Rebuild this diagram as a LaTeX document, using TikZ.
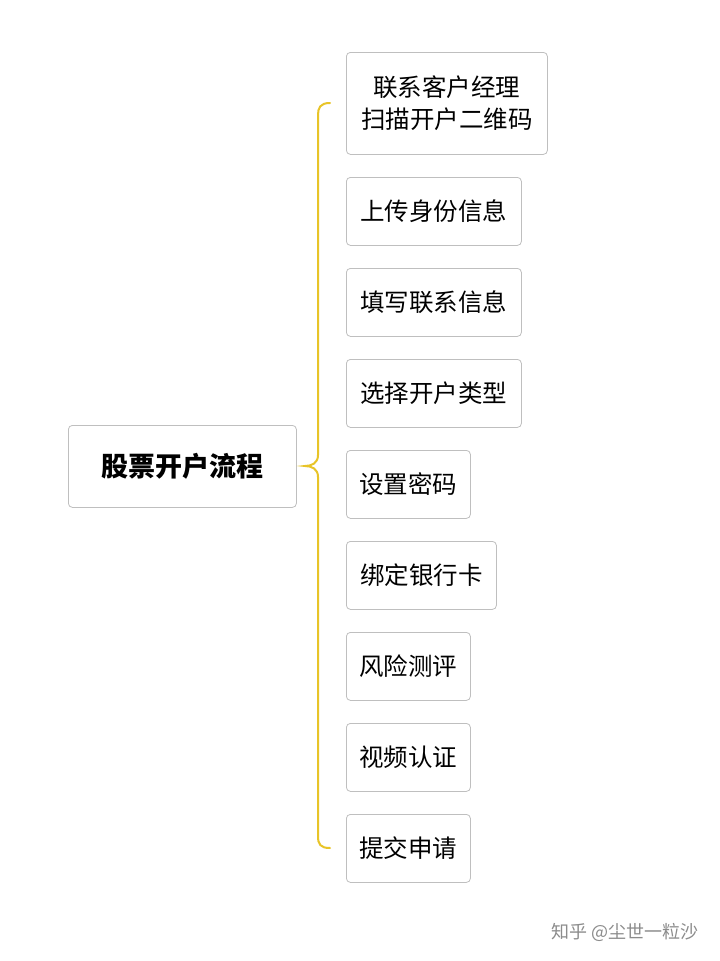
\documentclass[tikz,border=0pt]{standalone}
\usepackage{fontspec}
\setmainfont{Noto Sans CJK SC}
\definecolor{braceyellow}{RGB}{232,196,40}
\begin{document}
\begin{tikzpicture}[x=1pt,y=-1pt,
    stepbox/.style={draw=black!25,rounded corners=4pt,line width=0.8pt,anchor=north west,
      align=center,font=\fontsize{24.5}{32}\selectfont,inner sep=0pt}]
    % Fondo
    \fill[white] (0,0) rectangle (720,961);
    % Nodo raiz
    \node[stepbox,minimum width=228pt,minimum height=82pt,font=\fontsize{27}{30}\selectfont\bfseries] (root) at (68,425) {股票开户流程};
    % Pasos
    \node[stepbox,minimum width=201pt,minimum height=102pt] (s1) at (346,52) {联系客户经理\\扫描开户二维码};
    \node[stepbox,minimum width=175pt,minimum height=68pt] (s2) at (346,177) {上传身份信息};
    \node[stepbox,minimum width=175pt,minimum height=68pt] (s3) at (346,268) {填写联系信息};
    \node[stepbox,minimum width=175pt,minimum height=68pt] (s4) at (346,359) {选择开户类型};
    \node[stepbox,minimum width=124pt,minimum height=68pt] (s5) at (346,450) {设置密码};
    \node[stepbox,minimum width=150pt,minimum height=68pt] (s6) at (346,541) {绑定银行卡};
    \node[stepbox,minimum width=124pt,minimum height=68pt] (s7) at (346,632) {风险测评};
    \node[stepbox,minimum width=124pt,minimum height=68pt] (s8) at (346,723) {视频认证};
    \node[stepbox,minimum width=124pt,minimum height=68pt] (s9) at (346,814) {提交申请};
    % Llave
    \coordinate (b1) at (330,103);
    \coordinate (b9) at (330,848);
    \coordinate (tip) at (305,466);
    \draw[braceyellow,line width=2pt,line cap=round]
      (b1) .. controls (320,103) and (318,108) .. (318,115) -- (318,455)
      .. controls (318,463) and (312,466) .. (tip)
      .. controls (312,466) and (318,469) .. (318,477) -- (318,836)
      .. controls (318,844) and (320,848) .. (b9);
    % Marca
    \node[anchor=east,text=black!45,font=\fontsize{18}{20}\selectfont] (mark) at (702,932) {知乎 @尘世一粒沙};
\end{tikzpicture}
\end{document}
